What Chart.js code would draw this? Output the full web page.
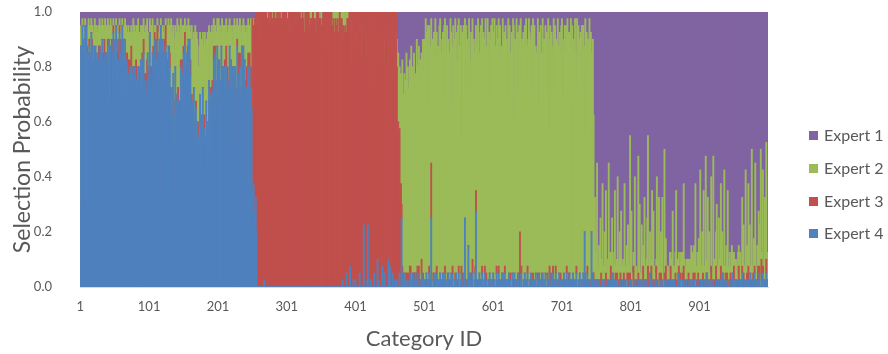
<!DOCTYPE html>
<html>
<head>
<meta charset="utf-8">
<script src="https://cdn.jsdelivr.net/npm/chart.js@4.4.0/dist/chart.umd.min.js"></script>
<style>
  body { margin: 0; background: #fff; }
  #wrap { position: relative; width: 888px; height: 354px; }
  .lg-box { position: absolute; width: 9px; height: 9px; }
  .lg-text { position: absolute; font-family: Lato, sans-serif; font-size: 16px; line-height: 18px; color: #595959; white-space: nowrap; }
</style>
</head>
<body>
<div id="wrap">
  <canvas id="chart" width="888" height="354"></canvas>
  <div id="legend"></div>
</div>
<script>
// values are one char per category, base 36, divided by SCALE
// '*' = the dominant expert for that category (takes what is left of 1.0)
const SCALE = 40;
const tickLabels = ['1', '101', '201', '301', '401', '501', '601', '701', '801', '901'];
const seriesNames = ['Expert 1', 'Expert 2', 'Expert 3', 'Expert 4'];
const seriesColors = ['#8064A2', '#9BBB59', '#C0504D', '#4F81BD'];

// 20 rows x 50 categories each
const expert1Rows = [
    '3231423142 2413251324 3142352413 2514231425 1324152314',
    '2413524132 3142315243 2534253142 3425143524 2513425134',
    '3142513425 2413524132 3524132514 2513424924 3142531425',
    '2413524132 3524635243 4885374635 5374635243 4253142531',
    '3142531425 2413524132 3524132514 2413524132 3524132415',
    '1212101010 1010201010 0101001020 1001010010 0101001010',
    '1020101030 1010201010 2010103010 0102010301 0103010201',
    '2010302010 4010203010 3020103040 1020304010 2030105020',
    '3020401030 2040103050 2030406020 3040205030 2040302040',
    '3050406030 4a6c8e9b7d c9fa6d8bg7 a5c8e6b9d4 8c5a7e6b49',
    '4a1352e2b5 18463g1c37 5f214693d2 1572b46h13 5e2a4137c2',
    '1562i34251 b2d4617e35 1846g25a13 6d24153f41 5b163i4251',
    '3615c24e16 2a5h14362b 4d1526e351 2g46183c25 1a463f2514',
    '5e13462b14 2856i1d352 6a1e45263c 14h263b514 2e4615d362',
    '1c54262g13 a3e152d461 6b1524e362 c25i16384d 1536a4f***',
    '********** ********** ********** ********** **********',
    '********** ********** ********** ********** **********',
    '********** ********** ********** ********** **********',
    '********** ********** ********** ********** **********',
    '********** ********** ********** ********** **********'
];

const expert2Rows = [
    'p321423120 3251432163 2614325142 4132615243 3521462314',
    '2413526142 315243152e 5746385746 6385746857 4637584635',
    '524e352413 2413524132 3524135241 46a8c79b6e 9b7c8a6957',
    '3425341352 48a9c8bd9f c8ae9dbd8c afc9bdg8ea 7a58463594',
    '4638527463 5847396485 6374859637 4859637485 7968584a79',
    '0010001000 0030100040 0010020001 0000100200 0010003000',
    '0100200010 0030001020 0100050010 0200301000 1060020010',
    '0300102050 0010400207 0102030001 0405020301 0020602030',
    '1030402050 2030104060 2010305020 4030206030 1040203050',
    '3050204060 48ac9dgh** ********** ********** **********',
    '********** ********** ********** ********** **********',
    '********** ********** ********** ********** **********',
    '********** ********** ********** ********** **********',
    '********** ********** ********** ********** **********',
    '********** ********** ********** ********** *******8c5',
    '2h1352a13e 2171c231i2 5219312d13 2g1372b124 1e2163912k',
    '3a1225f131 2h1b218231 c2139j2162 1e2a3121g3 2d1261c21i',
    '2412311524 1a3213e241 2315231c42 1324213152 4162f31427',
    '3h2173e12j 21c3712d31 i2315b2193 1c2713g216 3e32412531',
    '2413215324 13a2712h24 1c2813j217 3i2162b29k 13e21c2h41'
];

const expert3Rows = [
    '10101000a0 2011010120 0102010201 0902030102 100102c010',
    '0201030102 1030201020 2010301020 0f02010302 1020103m01',
    '2010302010 3020103020 1020302801 2030102800 1020301020',
    '1020103010 2010203010 0602010304 2030102030 1030201030',
    '2010302010 1030201030 2010c02010 3020103020 1030202c30',
    '********** ********** ********** ********** **********',
    '********** ********** ********** ********** **********',
    '********** ********** ********** ********** **********',
    '********** ********** ********** ********** **********',
    '********** ********12 0102010201 3010201020 1030102010',
    '0100100100 8001001020 0100100010 1000201000 0100020010',
    '1000102000 0100010010 2000130100 0100100010 1000100100',
    '0100010010 1000200100 0010010001 1000100028 0100010100',
    '1000100020 0100010010 1020010001 0010200100 0100010010',
    '0100100100 2000100100 0100010010 1000200100 0100102000',
    '1010010201 0010201001 0201001020 1001020100 2010010201',
    '0100201001 0201001020 1001030100 2010010201 0010201001',
    '0201001020 1001020100 3010010201 0010201001 0201001020',
    '1001020100 2010010201 0010301001 0201001020 1001020100',
    '2010010201 0010201001 0201001020 1001020100 3010010201'
];

const expert4Rows = [
    '********** ********** ********** ********** **********',
    '********** ********** ********** ********** **********',
    '********** ********** ********** ********** **********',
    '********** ********** ********** ********** **********',
    '********** ********** ********** ********** **********',
    'ecfb9d8000 0000000100 0000000000 0000000000 0000000000',
    '0000000000 0000000000 0000000000 0000000000 0000000000',
    '0000000000 0000000000 0000000000 0100000200 0030000100',
    '1000002000 0090000190 0010000200 0040100003 0020000040',
    '3000200100 1000200a20 1020011002 0102001201 2001002010',
    '1002010201 a001200210 1002001201 2001020102 1200102001',
    '200120010a 1001602010 20012b1001 2010200120 1001020010',
    '2010020120 0102001201 1002010020 0201002100 1200102010',
    '2001020100 1020010201 0200102001 1020010201 0201002010',
    '1002010201 0201002010 1200102001 0208001201 1008020010',
    '0100100010 1001000100 0100200100 1000100010 0100010001',
    '1000100100 0010010010 0100100020 1001000100 0010010001',
    '0100010010 0100100002 0010010100 0100010010 1001000100',
    '0010100010 0200100100 1000010010 0100200100 1000100020',
    '1001000100 1020010001 0100200100 2010010200 1020100210'
];

function decodeRows(rows) {
    return rows.join('').replace(/ /g, '').split('')
        .map(ch => ch === '*' ? null : parseInt(ch, 36) / SCALE);
}

const raw = [expert1Rows, expert2Rows, expert3Rows, expert4Rows].map(decodeRows);
const categories = raw[0].map((_, i) => String(i + 1));

// fill the dominant expert with the remainder so each column sums to 1
const values = raw.map(s => s.slice());
for (let i = 0; i < categories.length; i++) {
    const used = raw.reduce((sum, s) => sum + (s[i] || 0), 0);
    values.forEach(s => {
        if (s[i] === null) s[i] = Math.max(0, 1 - used);
    });
}

const textColor = '#595959';
const fontFamily = 'Lato, sans-serif';

// Expert 4 sits at the bottom of the stack
const datasets = [3, 2, 1, 0].map(k => ({
    label: seriesNames[k],
    data: values[k],
    backgroundColor: seriesColors[k],
    borderWidth: 0,
    barPercentage: 1,
    categoryPercentage: 1,
    inflateAmount: 0.6   // bars are < 1px wide, overlap a bit so no white seams
}));

new Chart(document.getElementById('chart'), {
    type: 'bar',
    data: { labels: categories, datasets: datasets },
    options: {
        responsive: false,
        animation: false,
        devicePixelRatio: 1,
        layout: { padding: { top: 12, right: 120, bottom: 0, left: 0 } },
        plugins: {
            legend: { display: false },
            tooltip: { enabled: false }
        },
        scales: {
            x: {
                stacked: true,
                grid: { display: false, drawTicks: false },
                border: { display: true, color: '#d9d9d9', width: 1 },
                ticks: {
                    autoSkip: false,
                    maxRotation: 0,
                    padding: 12,
                    color: textColor,
                    font: { family: fontFamily, size: 13 },
                    callback: function (v) {
                        const lbl = this.getLabelForValue(v);
                        return tickLabels.includes(lbl) ? lbl : null;
                    }
                },
                title: {
                    display: true,
                    text: 'Category ID',
                    color: textColor,
                    font: { family: fontFamily, size: 22 },
                    padding: { top: 0, bottom: 2 }
                },
                afterFit: s => { s.height = 67; }
            },
            y: {
                stacked: true,
                min: 0,
                max: 1,
                grid: { display: false, drawTicks: false },
                border: { display: false },
                ticks: {
                    stepSize: 0.2,
                    padding: 28,
                    color: textColor,
                    font: { family: fontFamily, size: 13 },
                    callback: v => v.toFixed(1)
                },
                title: {
                    display: true,
                    text: 'Selection Probability',
                    color: textColor,
                    font: { family: fontFamily, size: 23 },
                    padding: { top: 9, bottom: 0 }
                },
                afterFit: s => {
                    s.width = 80;
                    // tick padding would otherwise push the plot top down
                    s.paddingTop = 0;
                    s.paddingBottom = 0;
                }
            }
        }
    }
});

// legend on the right, Expert 1 first
const legendY = [135, 168, 201, 233];
const legend = document.getElementById('legend');
seriesNames.forEach((name, k) => {
    const box = document.createElement('div');
    box.className = 'lg-box';
    box.style.left = '809px';
    box.style.top = (legendY[k] - 4.5) + 'px';
    box.style.background = seriesColors[k];
    legend.appendChild(box);
    const txt = document.createElement('div');
    txt.className = 'lg-text';
    txt.style.left = '824px';
    txt.style.top = (legendY[k] - 9) + 'px';
    txt.textContent = name;
    legend.appendChild(txt);
});
</script>
</body>
</html>
